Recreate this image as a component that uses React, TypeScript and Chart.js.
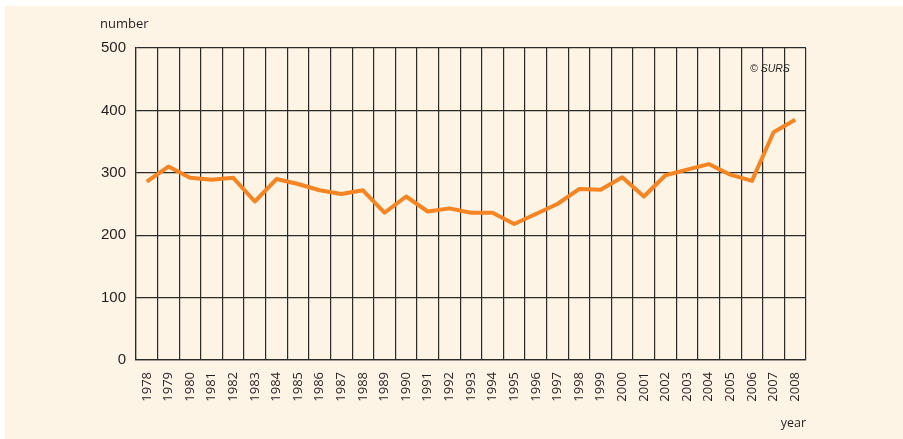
import React, { useEffect, useRef } from "react";
import { Chart, registerables } from "chart.js";

Chart.register(...registerables);

const years: string[] = [
  "1978", "1979", "1980", "1981", "1982", "1983", "1984", "1985", "1986", "1987",
  "1988", "1989", "1990", "1991", "1992", "1993", "1994", "1995", "1996", "1997",
  "1998", "1999", "2000", "2001", "2002", "2003", "2004", "2005", "2006", "2007", "2008",
];

const counts: number[] = [
  286, 310, 292, 289, 292, 254, 290, 282, 272, 266,
  272, 236, 262, 238, 243, 236, 236, 218, 234, 250,
  274, 273, 293, 262, 296, 305, 314, 297, 287, 365, 385,
];

const yTicks: number[] = [0, 100, 200, 300, 400, 500];

const BG = "#FEF4E5";
const INK = "#231F20";
const GRID = "#2a2a2a";
const LINE = "#F58423";

const textPlugin = {
  id: "extraText",
  afterDraw(chart: any) {
    const ctx = chart.ctx;
    const area = chart.chartArea;
    ctx.save();
    ctx.fillStyle = INK;
    ctx.textBaseline = "alphabetic";
    ctx.font = "13px 'Open Sans'";
    ctx.textAlign = "left";
    ctx.fillText("number", 100, 28);
    ctx.font = "12.5px 'Open Sans'";
    ctx.textAlign = "right";
    ctx.fillText("year", area.right, 427);
    ctx.font = "italic 10.5px 'Liberation Sans'";
    ctx.textAlign = "left";
    ctx.fillText("© SURS", 750, 72);
    ctx.restore();
  },
};

export default function App() {
  const canvasRef = useRef<HTMLCanvasElement | null>(null);

  useEffect(() => {
    document.body.style.margin = "0";
    const canvas = canvasRef.current;
    if (!canvas) return;
    const chart = new Chart(canvas, {
      type: "line",
      data: {
        labels: years,
        datasets: [
          {
            data: counts,
            borderColor: LINE,
            borderWidth: 4,
            pointRadius: 0,
            tension: 0,
            fill: false,
            borderJoinStyle: "round",
          },
        ],
      },
      options: {
        animation: false,
        responsive: false,
        maintainAspectRatio: false,
        layout: { padding: { left: 0, right: 97, top: 48, bottom: 0 } },
        plugins: {
          legend: { display: false },
          tooltip: { enabled: false },
          title: { display: false },
        },
        scales: {
          x: {
            type: "category",
            offset: true,
            grid: {
              offset: true,
              color: GRID,
              lineWidth: 1.2,
              drawTicks: false,
            },
            border: { display: true, color: GRID, width: 1.2 },
            ticks: {
              autoSkip: false,
              maxRotation: 90,
              minRotation: 90,
              padding: 12,
              color: INK,
              font: { family: "'Open Sans'", size: 13 },
            },
            afterFit: (scale: any) => {
              scale.height = 79;
            },
          },
          y: {
            min: 0,
            max: 500,
            afterBuildTicks: (scale: any) => {
              scale.ticks = yTicks.map((v) => ({ value: v }));
            },
            grid: {
              color: GRID,
              lineWidth: 1.2,
              drawTicks: false,
            },
            border: { display: true, color: GRID, width: 1.2 },
            ticks: {
              padding: 10,
              color: INK,
              font: { family: "'Liberation Sans'", size: 15 },
            },
            afterFit: (scale: any) => {
              scale.width = 136;
            },
          },
        },
      },
      plugins: [textPlugin],
    });
    return () => chart.destroy();
  }, []);

  return (
    <div style={{ position: "absolute", left: 0, top: 0, width: 903, height: 439, background: "#ffffff", overflow: "hidden" }}>
      <div style={{ position: "absolute", left: 5, top: 6, right: 0, bottom: 0, background: BG }} />
      <canvas
        ref={canvasRef}
        width={903}
        height={439}
        style={{ position: "absolute", left: 0, top: 0, width: 903, height: 439 }}
      />
    </div>
  );
}
